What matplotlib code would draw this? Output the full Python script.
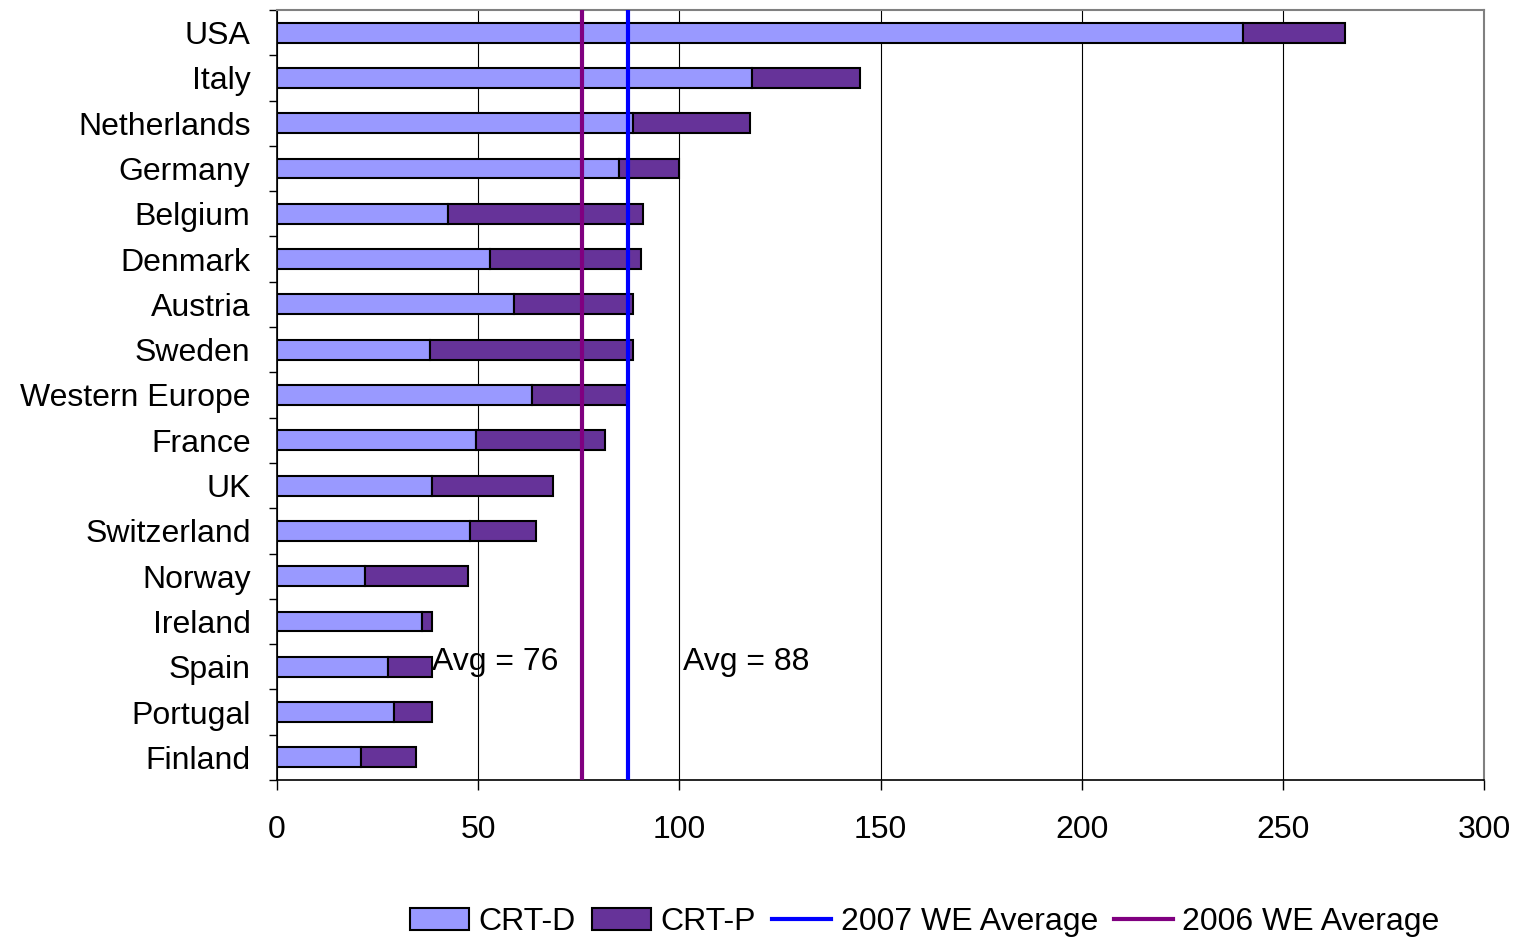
import numpy as np
import matplotlib.pyplot as plt
from matplotlib.patches import Patch
from matplotlib.lines import Line2D

plt.rcParams['font.family'] = ['Liberation Sans', 'DejaVu Sans']

countries = ['USA', 'Italy', 'Netherlands', 'Germany', 'Belgium', 'Denmark',
             'Austria', 'Sweden', 'Western Europe', 'France', 'UK',
             'Switzerland', 'Norway', 'Ireland', 'Spain', 'Portugal', 'Finland']
crt_d = [240, 118, 88.5, 85, 42.5, 53, 59, 38, 63.5, 49.5, 38.5, 48, 22, 36, 27.5, 29, 21]
crt_p = [25.5, 27, 29, 15, 48.5, 37.5, 29.5, 50.5, 23.5, 32, 30, 16.5, 25.5, 2.5, 11, 9.5, 13.5]
avg_2007 = 87.2
avg_2006 = 75.8
avg_labels = ['Avg = 76', 'Avg = 88']

fig = plt.figure(figsize=(15.21, 9.39), dpi=100)
ax = fig.add_axes([0.1821, 0.1693, 0.7936, 0.8201])

y = np.arange(len(countries))
h = 0.44
ax.barh(y, crt_d, height=h, color='#9999FF', edgecolor='black', linewidth=1.5, zorder=3)
ax.barh(y, crt_p, left=crt_d, height=h, color='#663399', edgecolor='black', linewidth=1.5, zorder=3)
ax.axvline(avg_2007, color='#0000FF', linewidth=3, zorder=4)
ax.axvline(avg_2006, color='#800080', linewidth=3, zorder=4)

ax.text(38.5, 13.9, avg_labels[0], fontsize=23, va='center', ha='left', zorder=5)
ax.text(101, 13.9, avg_labels[1], fontsize=23, va='center', ha='left', zorder=5)

ax.set_xlim(0, 300)
ax.set_ylim(len(countries) - 0.5, -0.5)
ax.set_xticks(np.arange(0, 301, 50))
ax.set_yticks(y)
ax.set_yticklabels(countries)
ax.set_yticks(np.arange(-0.5, len(countries), 1), minor=True)
ax.tick_params(axis='y', which='major', length=0, labelsize=23, pad=19)
ax.tick_params(axis='y', which='minor', length=6, width=1)
ax.tick_params(axis='x', length=7, width=1, labelsize=23, pad=18)
ax.xaxis.grid(True, color='black', linewidth=0.8, zorder=0)
ax.set_axisbelow(True)

for s in ['top', 'right']:
    ax.spines[s].set_color('#808080')
    ax.spines[s].set_linewidth(1.5)
for s in ['left', 'bottom']:
    ax.spines[s].set_color('black')
    ax.spines[s].set_linewidth(1.2)

handles = [Patch(facecolor='#9999FF', edgecolor='black', linewidth=1.5),
           Patch(facecolor='#663399', edgecolor='black', linewidth=1.5),
           Line2D([], [], color='#0000FF', linewidth=3),
           Line2D([], [], color='#800080', linewidth=3)]
labels = ['CRT-D', 'CRT-P', '2007 WE Average', '2006 WE Average']
fig.legend(handles, labels, loc='center', bbox_to_anchor=(0.608, 0.018), ncol=4,
           frameon=False, fontsize=23, handlelength=1.85, handletextpad=0.3,
           columnspacing=0.5)

fig.savefig('out.png', dpi=100)
